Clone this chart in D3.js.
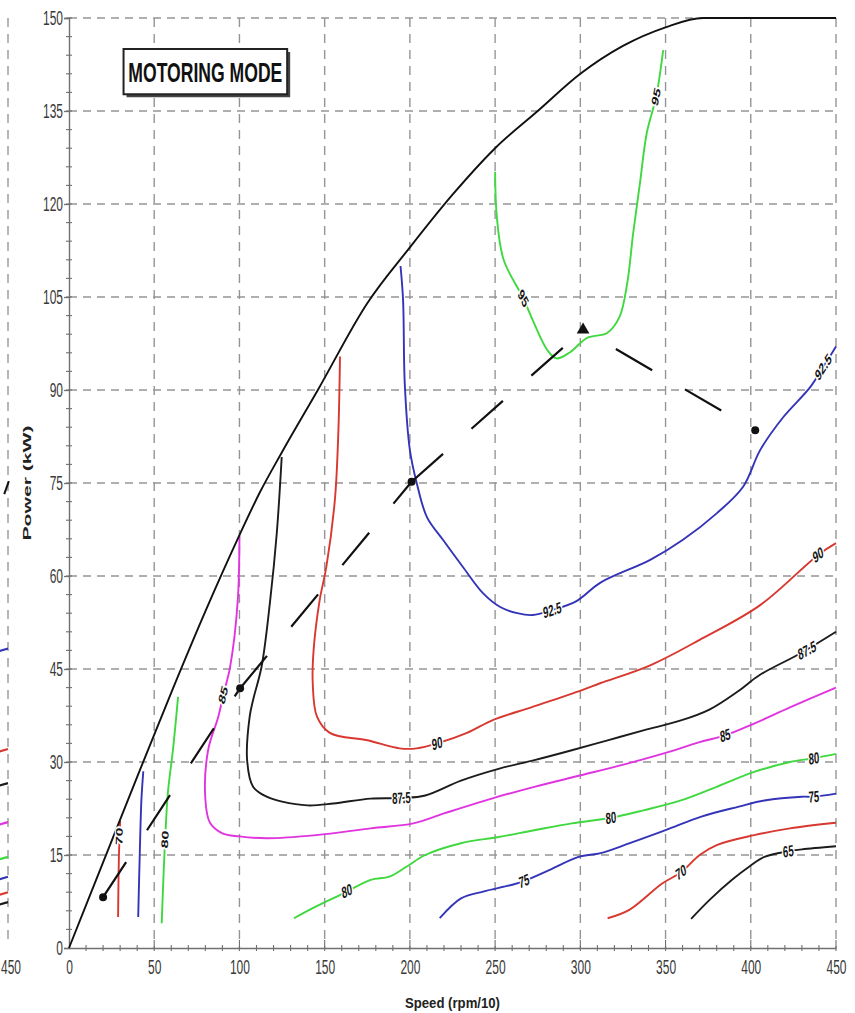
<!DOCTYPE html>
<html>
<head>
<meta charset="utf-8">
<script src="https://cdn.jsdelivr.net/npm/d3@7"></script>
<style>
  body { margin: 0; background: #fff; }
  svg { display: block; font-family: "Liberation Sans", Arial, sans-serif; }
</style>
</head>
<body>
<svg id="chart"></svg>
<script>
// axis ticks
const speedTicks = d3.range(0, 451, 50);
const powerTicks = d3.range(0, 151, 15);

// efficiency levels (%) drawn as contours
const levels = ["65", "70", "75", "80", "85", "87.5", "90", "92.5", "95"];

// max power envelope [speed, power]
const envelope = [[0, 0], [20, 13.8], [40, 27.6], [60, 41.2], [80, 54.3], [100, 66.6], [112, 73.5], [125, 80],
                  [146, 90], [175, 104], [200, 113], [225, 121.5], [250, 129], [275, 135],
                  [300, 141], [325, 145.5], [350, 148.5], [372, 150], [450, 150]];

// contour lines [speed, power]
const c65 = [[365, 4.7], [376, 7.8], [389, 11], [399, 13.1], [408, 14.7], [422, 15.6], [430, 15.9], [450, 16.4]];
const c70 = [[316, 4.8], [329, 6.2], [348, 10.4], [359, 12.2], [370, 15], [380, 16.6], [402, 18.2], [423, 19.3], [450, 20.2]];
const c70low = [[28.8, 5], [29, 10], [29.3, 15], [30, 20.5]];
const c75 = [[217.5, 4.8], [230, 8], [243, 9.1], [260, 10.2], [267, 10.8], [282, 12.6], [299, 14.7], [312, 15.3],
             [329, 16.9], [350, 19], [371, 21.2], [393, 22.8], [408, 23.8], [430, 24.4], [437, 24.4], [450, 24.9]];
const c75low = [[40.6, 5], [41.5, 15], [42.5, 24], [43.6, 28.5]];
const c80 = [[132, 4.8], [145, 6.7], [161, 8.8], [177, 11], [188, 11.5], [198, 13.1], [209, 15], [230, 16.9],
             [252, 17.9], [273, 19], [295, 20.1], [318, 21], [337, 22.2], [359, 23.8], [380, 26], [402, 28.4],
             [423, 30], [437, 30.6], [450, 31.3]];
const c80low = [[54.4, 4], [55.5, 12], [56.5, 18], [58, 25], [61, 32], [64, 40.5]];
const c85 = [[100, 66.5], [99, 56], [94.5, 45.3], [90.5, 40.8], [87.6, 37.3], [81.6, 31.9], [80, 24], [82.7, 20.2],
             [90, 18.5], [100, 18], [116, 17.7], [145, 18.2], [177, 19.3], [202, 20.1], [220, 21.7], [248, 24.1],
             [273, 26], [301, 27.9], [327, 29.7], [348, 31.3], [370, 33.2], [385, 34.3], [402, 36.2], [423, 38.8], [450, 42]];
const c875 = [[124.8, 79.2], [121.9, 66.9], [118, 56], [113, 45.4], [108, 40], [106, 37.3], [104.5, 30.3], [108, 26],
              [116, 24.4], [125, 23.6], [140, 23], [155, 23.3], [177, 24.1], [195, 24.2], [209, 24.6], [230, 27],
              [252, 28.9], [273, 30.3], [295, 31.9], [316, 33.5], [337, 35.1], [359, 36.7], [376, 38.5], [393, 41.5],
              [405, 44], [429, 47.5], [450, 51]];
const c90 = [[159, 95.4], [158, 83], [156, 72.3], [151, 61.5], [147, 56], [143.5, 48], [143, 42.7], [145.5, 37.3],
             [153, 34.7], [175, 33.5], [194, 32.2], [204, 32.2], [216, 33], [233.5, 34.7], [249, 36.8], [272, 38.9],
             [301, 41.6], [311.6, 42.7], [341, 45.6], [370, 49.7], [405.5, 55.3], [439.5, 63.4], [450, 65.3]];
const c925 = [[194.5, 110], [196, 104.5], [197, 91], [200, 80.3], [204, 75], [210, 69.5], [219.5, 65.8], [231, 61.5],
              [243, 57.2], [253, 55], [263, 54], [272, 53.7], [283.5, 54.5], [298, 56], [311.6, 58.9], [341, 62.6],
              [360, 65.8], [380, 70.1], [395.5, 74.4], [405.5, 80.3], [419, 85.6], [435, 90.5], [442.5, 93.7], [450, 97]];
const c95 = [[250, 125.2], [251, 118], [255, 111], [266.5, 104.8], [272, 101.3], [280.5, 96.5], [286, 95.1],
             [294, 96.1], [304, 98.4], [315.7, 99.2], [323, 101.8], [327.5, 107.2], [331, 115.3], [335, 123.4],
             [339, 131.5], [344.5, 137.3], [348.6, 144.8]];

// where the level labels sit [level, speed, power]
const labelSpots = [["65", 422, 15.6], ["70", 359, 12.2], ["70", 29.5, 18], ["75", 267, 10.8], ["75", 437, 24.4],
                    ["80", 163, 9.2], ["80", 318, 21], ["80", 437, 30.6], ["80", 56.3, 17.5],
                    ["85", 90.5, 40.8], ["85", 385, 34.3], ["87.5", 195, 24.2], ["87.5", 433, 48],
                    ["90", 216, 33], ["90", 439.5, 63.4], ["92.5", 283.5, 54.5], ["92.5", 442.5, 93.7],
                    ["95", 266.5, 104.8], ["95", 344.5, 137.3]];

// operating path [speed, power]
const opPath = [[20, 8.2], [100.4, 41.9], [201, 75.2], [301.6, 99.7], [402.6, 83.5]];

// right edge of the neighbouring chart (cut off at the left)
const neighbourLevels = ["92.5", "90", "87.5", "85", "80", "75", "70", "65"];
const neighbourEnds = [48.3, 32.1, 26.6, 20.3, 14.7, 11.5, 9.0, 7.4];
const neighbourTrail = [[447.8, 73.2], [450.5, 75.3]];

const contourLines = [
  {level: "65", pts: c65}, {level: "70", pts: c70}, {level: "70", pts: c70low},
  {level: "75", pts: c75}, {level: "75", pts: c75low}, {level: "80", pts: c80}, {level: "80", pts: c80low},
  {level: "85", pts: c85}, {level: "87.5", pts: c875}, {level: "90", pts: c90},
  {level: "92.5", pts: c925}, {level: "95", pts: c95}
];

const width = 855, height = 1013;
const sq = 0.6; // the picture is squeezed sideways, text too

const levelColor = d3.scaleOrdinal()
  .domain(levels)
  .range(["#1c1c1c", "#d8382f", "#3434b8", "#3fd83f", "#e034e0", "#1c1c1c", "#d8382f", "#3434b8", "#3fd83f"]);

const x = d3.scaleLinear().domain([0, 450]).range([69, 836]);
const y = d3.scaleLinear().domain([0, 150]).range([948, 18]);
// neighbour chart uses the same scale, its 450 sits at x = 8
const xN = d3.scaleLinear().domain([0, 450]).range([8 - 767, 8]);

const svg = d3.select("#chart")
  .attr("width", width)
  .attr("height", height);

svg.append("rect").attr("width", width).attr("height", height).attr("fill", "#fff");

// neighbour chart stub
const nb = svg.append("g");
nb.append("line")
  .attr("x1", xN(450)).attr("x2", xN(450))
  .attr("y1", y(150)).attr("y2", y(0) - 6)
  .attr("stroke", "#999").attr("stroke-width", 1.4).attr("stroke-dasharray", "9,7");
nb.selectAll("line.stub")
  .data(neighbourEnds)
  .join("line")
  .attr("class", "stub")
  .attr("x1", xN(445)).attr("x2", xN(450))
  .attr("y1", d => y(d - 0.4)).attr("y2", d => y(d))
  .attr("stroke", (d, i) => levelColor(neighbourLevels[i]))
  .attr("stroke-width", 2.2);
nb.append("path")
  .attr("d", d3.line().x(d => xN(d[0])).y(d => y(d[1]))(neighbourTrail))
  .attr("stroke", "#111").attr("stroke-width", 2).attr("fill", "none");
nb.append("text")
  .attr("transform", `translate(${xN(450) + 3},${y(0) + 26}) scale(${sq},1)`)
  .attr("text-anchor", "middle")
  .attr("font-size", 20)
  .attr("fill", "#3a3a3a")
  .text("450");

// grid
const grid = svg.append("g")
  .attr("stroke", "#959595")
  .attr("stroke-width", 1.4);
grid.selectAll("line.v")
  .data(speedTicks.filter(d => d > 0))
  .join("line")
  .attr("class", "v")
  .attr("x1", d => x(d)).attr("x2", d => x(d))
  .attr("y1", y(150)).attr("y2", y(0))
  .attr("stroke-dasharray", "9,7");
grid.selectAll("line.h")
  .data(powerTicks.filter(d => d > 0))
  .join("line")
  .attr("class", "h")
  .attr("x1", x(0)).attr("x2", x(450))
  .attr("y1", d => y(d)).attr("y2", d => y(d))
  .attr("stroke-dasharray", "8,6");

// axes
const xAxis = svg.append("g")
  .attr("transform", `translate(0,${y(0)})`)
  .call(d3.axisBottom(x).tickValues(speedTicks).tickSize(0).tickPadding(12));
const yAxis = svg.append("g")
  .attr("transform", `translate(${x(0)},0)`)
  .call(d3.axisLeft(y).tickValues(powerTicks).tickSize(5).tickPadding(1));

[xAxis, yAxis].forEach(a => {
  a.select(".domain").attr("stroke", "#707070").attr("stroke-width", 1.4);
  a.selectAll(".tick line").attr("stroke", "#707070").attr("stroke-width", 1.3);
  a.selectAll("text")
    .attr("font-size", 20)
    .attr("font-family", "Liberation Sans, Arial, sans-serif")
    .attr("fill", "#3a3a3a");
});
xAxis.selectAll("text").attr("transform", `scale(${sq},1)`);
yAxis.selectAll("text").attr("x", 0).attr("transform", `translate(-6,0) scale(${sq},1)`);

// minor ticks
const minor = svg.append("g").attr("stroke", "#707070").attr("stroke-width", 1.1);
minor.selectAll("line.mx")
  .data(d3.range(10, 451, 10))
  .join("line")
  .attr("class", "mx")
  .attr("x1", d => x(d)).attr("x2", d => x(d))
  .attr("y1", d => y(0) - (d % 50 === 0 ? 8 : 3)).attr("y2", y(0) + 3);
minor.selectAll("line.my")
  .data(d3.range(3, 151, 3))
  .join("line")
  .attr("class", "my")
  .attr("x1", x(0) - 3).attr("x2", x(0) + 3)
  .attr("y1", d => y(d)).attr("y2", d => y(d));

// contours
const contourLine = d3.line()
  .x(d => x(d[0]))
  .y(d => y(d[1]))
  .curve(d3.curveCatmullRom.alpha(0.5));

svg.append("g")
  .attr("fill", "none")
  .selectAll("path")
  .data(contourLines)
  .join("path")
  .attr("d", d => contourLine(d.pts))
  .attr("stroke", d => levelColor(d.level))
  .attr("stroke-width", 1.9);

// envelope
svg.append("path")
  .attr("d", d3.line().x(d => x(d[0])).y(d => y(d[1])).curve(d3.curveMonotoneX)(envelope))
  .attr("fill", "none")
  .attr("stroke", "#111")
  .attr("stroke-width", 1.9);

// contour labels, turned along their line
function labelAngle(level, s, p) {
  let best = null, bi = 0, bd = Infinity;
  contourLines.filter(c => c.level === level).forEach(c => {
    c.pts.forEach((q, i) => {
      const d = (x(q[0]) - x(s)) ** 2 + (y(q[1]) - y(p)) ** 2;
      if (d < bd) { bd = d; best = c.pts; bi = i; }
    });
  });
  const a = best[Math.max(0, bi - 1)], b = best[Math.min(best.length - 1, bi + 1)];
  const dx = x(b[0]) - x(a[0]), dy = y(b[1]) - y(a[1]);
  let ang = Math.atan2(dy, dx / sq) * 180 / Math.PI;
  if (ang > 90) ang -= 180;
  if (ang < -90) ang += 180;
  return ang;
}

svg.append("g")
  .selectAll("text")
  .data(labelSpots)
  .join("text")
  .attr("transform", d => `translate(${x(d[1])},${y(d[2])}) scale(${sq},1) rotate(${labelAngle(d[0], d[1], d[2])})`)
  .attr("text-anchor", "middle")
  .attr("dominant-baseline", "central")
  .attr("font-size", 16)
  .attr("font-weight", "bold")
  .attr("fill", "#141414")
  .attr("stroke", "#fff")
  .attr("stroke-width", 4)
  .attr("paint-order", "stroke")
  .text(d => d[0]);

// operating path, each leg starts with a dash
const op = svg.append("g");
d3.pairs(opPath).forEach((seg, i) => {
  op.append("path")
    .attr("d", d3.line().x(d => x(d[0])).y(d => y(d[1]))(seg))
    .attr("fill", "none")
    .attr("stroke", "#111")
    .attr("stroke-width", 2.2)
    .attr("stroke-dasharray", "42,38")
    .attr("stroke-dashoffset", i === 3 ? 42 : 0);
});
op.selectAll("circle")
  .data(opPath.filter((d, i) => i !== 3))
  .join("circle")
  .attr("cx", d => x(d[0]))
  .attr("cy", d => y(d[1]))
  .attr("r", 4)
  .attr("fill", "#111");
op.append("path")
  .attr("d", d3.symbol().type(d3.symbolTriangle).size(70)())
  .attr("transform", `translate(${x(opPath[3][0])},${y(opPath[3][1])})`)
  .attr("fill", "#111");

// mode box
const box = svg.append("g");
box.append("rect")
  .attr("x", x(32) + 3).attr("y", y(145) + 3)
  .attr("width", x(128) - x(32)).attr("height", y(137.7) - y(145))
  .attr("fill", "#444");
box.append("rect")
  .attr("x", x(32)).attr("y", y(145))
  .attr("width", x(128) - x(32)).attr("height", y(137.7) - y(145))
  .attr("fill", "#fff")
  .attr("stroke", "#222")
  .attr("stroke-width", 2);
box.append("text")
  .attr("x", (x(32) + x(128)) / 2)
  .attr("y", (y(145) + y(137.7)) / 2 + 10)
  .attr("text-anchor", "middle")
  .attr("font-size", 28)
  .attr("font-weight", "bold")
  .attr("fill", "#111")
  .attr("textLength", 154)
  .attr("lengthAdjust", "spacingAndGlyphs")
  .text("MOTORING MODE");

// axis titles
svg.append("text")
  .attr("x", (x(0) + x(450)) / 2)
  .attr("y", 1008)
  .attr("text-anchor", "middle")
  .attr("font-size", 15)
  .attr("font-weight", "bold")
  .attr("fill", "#222")
  .attr("textLength", 95)
  .attr("lengthAdjust", "spacingAndGlyphs")
  .text("Speed (rpm/10)");

svg.append("text")
  .attr("transform", `translate(31,${y(75)}) scale(${sq},1) rotate(-90)`)
  .attr("text-anchor", "middle")
  .attr("font-size", 17)
  .attr("font-weight", "bold")
  .attr("fill", "#222")
  .attr("textLength", 115)
  .attr("lengthAdjust", "spacingAndGlyphs")
  .text("Power (kW)");
</script>
</body>
</html>
